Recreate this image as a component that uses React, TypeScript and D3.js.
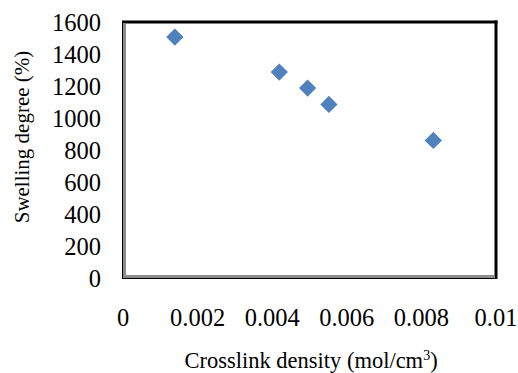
import React from "react";
import * as d3 from "d3";

// crosslink density (mol/cm3) vs swelling degree (%)
const density = [0.00139, 0.00419, 0.00495, 0.00552, 0.00832];
const swelling = [1506, 1287, 1187, 1085, 860];
const xTicks = [0, 0.002, 0.004, 0.006, 0.008, 0.01];
const xTickLabels = ["0", "0.002", "0.004", "0.006", "0.008", "0.01"];
const yTicks = [0, 200, 400, 600, 800, 1000, 1200, 1400, 1600];

const W = 518;
const H = 373;
const plot = { left: 123, right: 496, top: 22, bottom: 278 };
const font = "Liberation Serif, DejaVu Serif, serif";

export default function App() {
  const x = d3.scaleLinear().domain([0, 0.01]).range([plot.left, plot.right]);
  const y = d3.scaleLinear().domain([0, 1600]).range([plot.bottom, plot.top]);
  const diamond = d3.symbol().type(d3.symbolDiamond2).size(190)();

  return (
    <svg
      width={W}
      height={H}
      style={{ position: "absolute", left: 0, top: 0, background: "#fff", fontFamily: font }}
    >
      {/* frame: heavy black top/right, grey axis lines on left/bottom */}
      <line x1={plot.left - 0.5} x2={plot.right + 1.5} y1={plot.top} y2={plot.top} stroke="#000" strokeWidth={3} />
      <line x1={plot.right} x2={plot.right} y1={plot.top - 1.5} y2={plot.bottom + 1} stroke="#000" strokeWidth={3} />
      <line x1={plot.left - 0.5} x2={plot.left - 0.5} y1={plot.top - 1.5} y2={plot.bottom + 1} stroke="#000" strokeWidth={1} />
      <line x1={plot.left - 0.5} x2={plot.right - 1.5} y1={plot.bottom + 0.5} y2={plot.bottom + 0.5} stroke="#000" strokeWidth={1} />
      <line x1={plot.left + 1.5} x2={plot.left + 1.5} y1={plot.top + 1.5} y2={plot.bottom} stroke="#8c8c8c" strokeWidth={3} />
      <line x1={plot.left} x2={plot.right - 1.5} y1={plot.bottom - 1.5} y2={plot.bottom - 1.5} stroke="#8c8c8c" strokeWidth={3} />

      {yTicks.map((t) => (
        <text key={t} x={101} y={y(t)} textAnchor="end" dominantBaseline="central" fontSize={24.5} fontFamily={font}>
          {t}
        </text>
      ))}
      {xTicks.map((t, i) => (
        <text key={t} x={x(t)} y={317} textAnchor="middle" dominantBaseline="central" fontSize={24.5} fontFamily={font}>
          {xTickLabels[i]}
        </text>
      ))}

      {density.map((d, i) => (
        <path key={i} d={diamond} transform={`translate(${x(d)},${y(swelling[i])})`} fill="#4f81bd" />
      ))}

      <text x={311} y={368} textAnchor="middle" fontSize={22.5} fontFamily={font}>
        Crosslink density (mol/cm
        <tspan fontSize={14} dy={-8}>3</tspan>
        <tspan dy={8}>)</tspan>
      </text>
      <text
        transform={`translate(22,137) rotate(-90)`}
        textAnchor="middle"
        dominantBaseline="central"
        fontSize={21}
        fontFamily={font}
      >
        Swelling degree (%)
      </text>
    </svg>
  );
}
